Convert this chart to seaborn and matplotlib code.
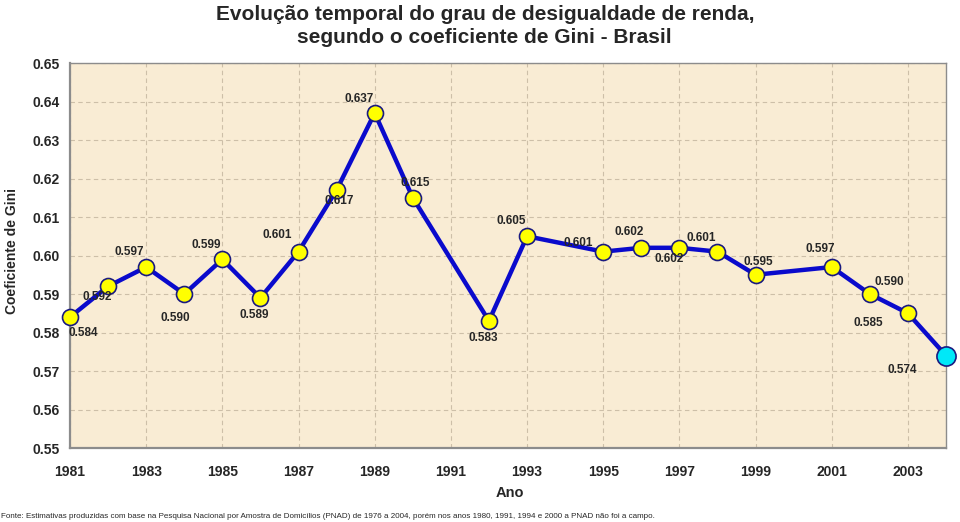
import matplotlib
matplotlib.use("Agg")
import pandas as pd
import matplotlib.pyplot as plt
import seaborn as sns

# Gini coefficient, Brazil (PNAD); no survey in 1991, 1994 and 2000
anos = [1981, 1982, 1983, 1984, 1985, 1986, 1987, 1988, 1989, 1990, 1992,
        1993, 1995, 1996, 1997, 1998, 1999, 2001, 2002, 2003, 2004]
gini = [0.584, 0.592, 0.597, 0.590, 0.599, 0.589, 0.601, 0.617, 0.637, 0.615, 0.583,
        0.605, 0.601, 0.602, 0.602, 0.601, 0.595, 0.597, 0.590, 0.585, 0.574]
rotulos = [f"{v:.3f}" for v in gini]

anos_ticks = [1981, 1983, 1985, 1987, 1989, 1991, 1993, 1995, 1997, 1999, 2001, 2003]
gini_ticks = [0.55, 0.56, 0.57, 0.58, 0.59, 0.60, 0.61, 0.62, 0.63, 0.64, 0.65]

# label offsets (pixels, from the marker)
off_x = [13, -11, -17, -9, -16, -6, -21, 3, -16, 2, -6,
         -16, -25, -12, -10, -16, 3, -11, 19, -40, -44]
off_y = [-16, -11, 15, -24, 14, -17, 17, -11, 14, 15, -17,
         15, 9, 16, -11, 14, 13, 18, 12, -10, -14]

sns.set_style("white")
plt.rcParams["font.family"] = ["Liberation Sans", "DejaVu Sans"]

fig = plt.figure(figsize=(9.6, 5.22), dpi=100)
ax = fig.add_axes([70 / 960, 1 - 448 / 522, 876 / 960, 385 / 522])
ax.set_facecolor("#F9ECD4")

df = pd.DataFrame({"Ano": anos, "Gini": gini})
sns.lineplot(data=df, x="Ano", y="Gini", ax=ax, color="#0A0ACC", lw=3.2,
             marker="o", markersize=11.5, markerfacecolor="#FFFF00",
             markeredgecolor="#1A1A80", markeredgewidth=1.2, clip_on=False, zorder=4)
sns.scatterplot(data=df.tail(1), x="Ano", y="Gini", ax=ax, s=190, color="#00E8F8",
                edgecolor="#1A1A80", linewidth=1.2, clip_on=False, zorder=5)

for a, g, r, dx, dy in zip(anos, gini, rotulos, off_x, off_y):
    ax.annotate(r, (a, g), xytext=(dx, dy), textcoords="offset pixels",
                ha="center", va="center", fontsize=8.5, fontweight="bold", zorder=6)

ax.set_xlim(1981, 2004)
ax.set_ylim(0.55, 0.65)
ax.set_xticks(anos_ticks)
ax.set_yticks(gini_ticks)
ax.set_yticklabels([f"{t:.2f}" for t in gini_ticks])
ax.set_xlabel("")
ax.set_ylabel("")
ax.tick_params(axis="both", direction="out", length=4, width=1, color="#808080",
               labelsize=10)
ax.tick_params(axis="x", pad=8)
ax.tick_params(axis="y", pad=3.5)
for lab in ax.get_xticklabels() + ax.get_yticklabels():
    lab.set_fontweight("bold")

ax.grid(True, ls=(0, (4, 3)), color="#CDBFA8", lw=0.8)
ax.set_axisbelow(True)
for side, sp in ax.spines.items():
    sp.set_color("#8C8C8C")
    sp.set_linewidth(1.6 if side in ("left", "bottom") else 1.0)

fig.text(0.505, 1 - 20 / 522, "Evolução temporal do grau de desigualdade de renda,",
         ha="center", va="baseline", fontsize=15, fontweight="bold")
fig.text(0.505, 1 - 43 / 522, "segundo o coeficiente de Gini - Brasil",
         ha="center", va="baseline", fontsize=15, fontweight="bold")
fig.text(12 / 960, 1 - 251 / 522, "Coeficiente de Gini", rotation=90,
         ha="center", va="center", fontsize=10, fontweight="bold")
fig.text(510 / 960, 1 - 493 / 522, "Ano", ha="center", va="center",
         fontsize=10.5, fontweight="bold")
fig.text(0.001, 1 - 516 / 522,
         "Fonte: Estimativas produzidas com base na Pesquisa Nacional por Amostra de "
         "Domicílios (PNAD) de 1976 a 2004, porém nos anos 1980, 1991, 1994 e 2000 "
         "a PNAD não foi a campo.",
         ha="left", va="center", fontsize=5.8)

fig.savefig("out.png", dpi=100)
